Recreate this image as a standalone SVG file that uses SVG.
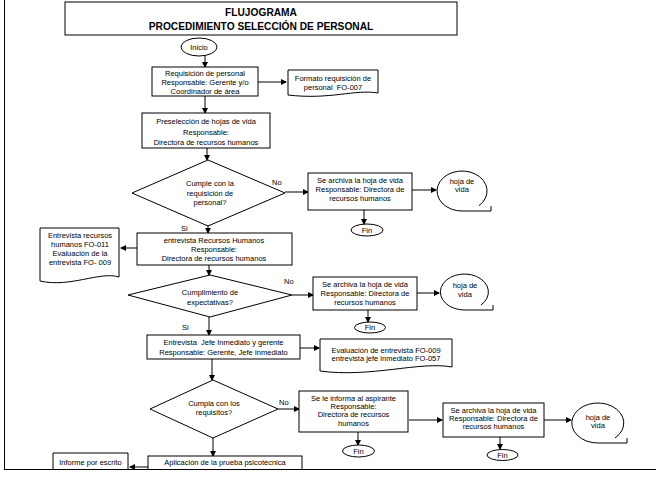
<svg xmlns="http://www.w3.org/2000/svg" width="661" height="478" viewBox="0 0 661 478">
<style>
.b{fill:#fff;stroke:#000;stroke-width:1}
.t{font-family:"Liberation Sans",Arial,sans-serif;font-size:7.5px;fill:#000;text-anchor:middle}
.l{font-family:"Liberation Sans",Arial,sans-serif;font-size:7.5px;fill:#000}
.h{font-family:"Liberation Sans",Arial,sans-serif;font-size:10.2px;font-weight:bold;fill:#000;text-anchor:middle}
.c{fill:none;stroke:#000;stroke-width:1;marker-end:url(#a)}
</style>
<defs>
<marker id="a" markerUnits="userSpaceOnUse" markerWidth="6" markerHeight="6" refX="5" refY="3" orient="auto">
<path d="M0,0 L6,3 L0,6 Z" fill="#000"/>
</marker>
<clipPath id="page"><rect x="0" y="0" width="661" height="469"/></clipPath>
</defs>
<rect x="0" y="0" width="661" height="478" fill="#fff"/>
<g clip-path="url(#page)">
<g id="title">
<rect class="b" x="65" y="2" width="392" height="33"/>
<text class="h" x="261" y="16">FLUJOGRAMA</text>
<text class="h" x="261" y="30">PROCEDIMIENTO SELECCIÓN DE PERSONAL</text>
</g>
<g id="connectors">
<line class="c" x1="205" y1="56" x2="205" y2="67"/>
<line class="c" x1="258" y1="82" x2="286" y2="82"/>
<line class="c" x1="205" y1="96" x2="205" y2="113"/>
<line class="c" x1="207" y1="148" x2="207" y2="160"/>
<line class="c" x1="285" y1="192" x2="308" y2="192"/>
<line class="c" x1="412" y1="190" x2="436" y2="190"/>
<line class="c" x1="364" y1="210" x2="364" y2="224"/>
<line class="c" x1="208" y1="226" x2="208" y2="233"/>
<line class="c" x1="137" y1="248" x2="121" y2="248"/>
<line class="c" x1="209" y1="265" x2="209" y2="275"/>
<line class="c" x1="292" y1="295" x2="313" y2="295"/>
<line class="c" x1="417" y1="293" x2="439" y2="293"/>
<line class="c" x1="368" y1="310" x2="368" y2="322"/>
<line class="c" x1="209" y1="317" x2="209" y2="335"/>
<line class="c" x1="300" y1="348" x2="319" y2="348"/>
<line class="c" x1="212" y1="359" x2="212" y2="380"/>
<line class="c" x1="278" y1="409" x2="299" y2="409"/>
<line class="c" x1="358" y1="432" x2="358" y2="445"/>
<line class="c" x1="409" y1="420" x2="442" y2="420"/>
<line class="c" x1="544" y1="420" x2="571" y2="420"/>
<line class="c" x1="500" y1="437" x2="500" y2="449"/>
<line class="c" x1="213" y1="438" x2="213" y2="456"/>
<line class="c" x1="148" y1="467" x2="130" y2="467"/>
<text class="l" x="272" y="185">No</text>
<text class="l" x="181" y="231">Si</text>
<text class="l" x="284" y="284">No</text>
<text class="l" x="182" y="330">Si</text>
<text class="l" x="279" y="405">No</text>
</g>
<g id="inicio">
<ellipse class="b" cx="199" cy="47" rx="18" ry="9"/>
<text class="t" x="199" y="50">Inicio</text>
</g>
<g id="requisicion">
<rect class="b" x="152" y="67" width="106" height="29"/>
<text class="t" x="205" y="76">Requisición de personal</text>
<text class="t" x="205" y="85">Responsable: Gerente y/o</text>
<text class="t" x="205" y="94">Coordinador de área</text>
</g>
<g id="formato">
<path class="b" d="M288,70 H378 V93 C355,89 330,100 288,95 Z"/>
<text class="t" x="333" y="81">Formato requisición de</text>
<text class="t" x="333" y="89.5" xml:space="preserve">personal  FO-007</text>
</g>
<g id="preseleccion">
<rect class="b" x="142" y="113" width="128" height="35"/>
<text class="t" x="206" y="124">Preselección de hojas de vida</text>
<text class="t" x="206" y="134.5">Responsable:</text>
<text class="t" x="206" y="144.5">Directora de recursos humanos</text>
</g>
<g id="decision1">
<polygon class="b" points="208,160 285,193 208,226 132,193"/>
<text class="t" x="210" y="185.5">Cumple con la</text>
<text class="t" x="210" y="195.5">requisición de</text>
<text class="t" x="210" y="204.5">personal?</text>
</g>
<g id="archiva1">
<rect class="b" x="308" y="173" width="104" height="37"/>
<text class="t" x="360" y="182.5">Se archiva la hoja de vida</text>
<text class="t" x="360" y="191.5">Responsable: Directora de</text>
<text class="t" x="360" y="200.5">recursos humanos</text>
</g>
<g id="hoja1">
<path class="b" d="M491,206 V211 H462 A25,20 0 1 1 479,205.7"/>
<text class="t" x="462" y="183.5">hoja de</text>
<text class="t" x="462" y="192">vida</text>
</g>
<g id="fin1">
<ellipse class="b" cx="367" cy="230" rx="16" ry="6"/>
<text class="t" x="367" y="232.5">Fin</text>
</g>
<g id="entrevistaRH">
<rect class="b" x="137" y="233" width="155" height="32"/>
<text class="t" x="214" y="242.5">entrevista Recursos Humanos</text>
<text class="t" x="214" y="251.5">Responsable:</text>
<text class="t" x="214" y="260.5">Directora de recursos humanos</text>
</g>
<g id="docEntrevista">
<path class="b" d="M40,228 H119 V277 C100,271 70,288 40,281 Z"/>
<text class="t" x="80" y="237.5">Entrevista recursos</text>
<text class="t" x="80" y="246.5">humanos FO-011</text>
<text class="t" x="80" y="255.5">Evaluación de la</text>
<text class="t" x="80" y="264.5">entrevista FO- 009</text>
</g>
<g id="decision2">
<polygon class="b" points="210,275 292,295 210,317 128,295"/>
<text class="t" x="210" y="295">Cumplimiento de</text>
<text class="t" x="210" y="305">expectativas?</text>
</g>
<g id="archiva2">
<rect class="b" x="313" y="277" width="104" height="33"/>
<text class="t" x="365" y="286.5">Se archiva la hoja de vida</text>
<text class="t" x="365" y="295.5">Responsable: Directora de</text>
<text class="t" x="365" y="304.5">recursos humanos</text>
</g>
<g id="hoja2">
<path class="b" d="M493,305 V310 H465 A24,18 0 1 1 481,305"/>
<text class="t" x="465" y="288">hoja de</text>
<text class="t" x="465" y="296.5">vida</text>
</g>
<g id="fin2">
<ellipse class="b" cx="370" cy="327.5" rx="15.5" ry="5.5"/>
<text class="t" x="370" y="330">Fin</text>
</g>
<g id="entrevistaJefe">
<rect class="b" x="147" y="335" width="153" height="24"/>
<text class="t" x="223.5" y="344.5" xml:space="preserve">Entrevista  Jefe Inmediato y gerente</text>
<text class="t" x="223.5" y="355">Responsable: Gerente, Jefe Inmediato</text>
</g>
<g id="docEvaluacion">
<path class="b" d="M320,339 H452 V367 C420,361 370,378 320,371 Z"/>
<text class="t" x="386" y="352.5">Evaluación de entrevista FO-009</text>
<text class="t" x="386" y="361">entrevista jefe inmediato FO-057</text>
</g>
<g id="decision3">
<polygon class="b" points="213,380 278,409 213,438 150,409"/>
<text class="t" x="214" y="405.5">Cumpla con los</text>
<text class="t" x="214" y="414.5">requisitos?</text>
</g>
<g id="informa">
<rect class="b" x="299" y="391" width="109" height="41"/>
<text class="t" x="353.5" y="400.5">Se le informa al aspirante</text>
<text class="t" x="353.5" y="408.5">Responsable:</text>
<text class="t" x="353.5" y="417">Directora de recursos</text>
<text class="t" x="353.5" y="425.5">humanos</text>
</g>
<g id="fin3">
<ellipse class="b" cx="358.5" cy="451" rx="16" ry="6"/>
<text class="t" x="358.5" y="453.5">Fin</text>
</g>
<g id="archiva3">
<rect class="b" x="443" y="403" width="101" height="34"/>
<text class="t" x="493.5" y="412.5">Se archiva la hoja de vida</text>
<text class="t" x="493.5" y="420.5">Responsable: Directora de</text>
<text class="t" x="493.5" y="428.5">recursos humanos</text>
</g>
<g id="hoja3">
<path class="b" d="M627,438 V443 H598 A26,20 0 1 1 615,438"/>
<text class="t" x="598" y="419.5">hoja de</text>
<text class="t" x="598" y="427.5">vida</text>
</g>
<g id="fin4">
<ellipse class="b" cx="502.5" cy="455" rx="15.5" ry="5.5"/>
<text class="t" x="502.5" y="457.5">Fin</text>
</g>
<g id="aplicacion">
<rect class="b" x="148" y="456" width="154" height="30"/>
<text class="t" x="225" y="465">Aplicación de la prueba psicotécnica</text>
<text class="t" x="225" y="474">Responsable: Dir Recursos Humanos</text>
</g>
<g id="docInforme">
<path class="b" d="M53,453 H128 V490 H53 Z"/>
<text class="t" x="90.5" y="465">Informe por escrito</text>
<text class="t" x="90.5" y="474">psicólogo outsorcing</text>
</g>
</g>
<g id="page-border">
<line x1="4.5" y1="0" x2="4.5" y2="469.5" stroke="#000" stroke-width="1"/>
<line x1="4" y1="469.5" x2="656" y2="469.5" stroke="#000" stroke-width="1.2"/>
</g>
</svg>
